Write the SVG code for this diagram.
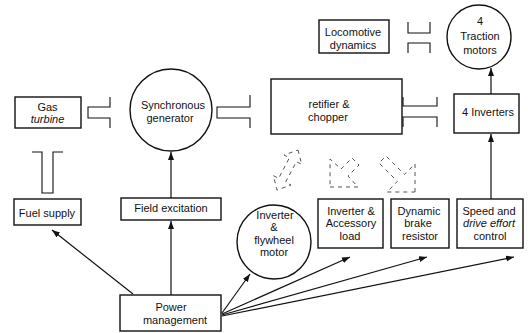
<svg xmlns="http://www.w3.org/2000/svg" width="528" height="333" viewBox="0 0 528 333">
<style>
  .box{fill:#fff;stroke:#111;stroke-width:1.4}
  .t{font-family:"Liberation Sans",Arial,sans-serif;font-size:11px;fill:#111;text-anchor:middle}
  .i{font-style:italic}
  .sh{fill:none;stroke:#111;stroke-width:1.1}
  .ln{fill:none;stroke:#111;stroke-width:1.2}
  .da{fill:none;stroke:#555;stroke-width:1;stroke-dasharray:4 4}
</style>
<defs>
  <marker id="ah" markerUnits="userSpaceOnUse" markerWidth="9" markerHeight="7" refX="8" refY="3" orient="auto">
    <path d="M0,0 L8,3 L0,6 z" fill="#111"/>
  </marker>
</defs>
<rect width="528" height="333" fill="#fff"/>

<g id="gas-turbine">
  <rect class="box" x="15" y="97" width="66" height="31"/>
  <text class="t" x="47.5" y="111">Gas</text>
  <text class="t i" x="47.5" y="123">turbine</text>
</g>
<g id="sync-generator">
  <circle class="box" cx="171" cy="110" r="41"/>
  <text class="t" x="173" y="109">Synchronous</text>
  <text class="t" x="170" y="122">generator</text>
</g>
<g id="rectifier">
  <rect class="box" x="271" y="79" width="131" height="55"/>
  <text class="t" x="329" y="108">retifier &amp;</text>
  <text class="t" x="328" y="121">chopper</text>
</g>
<g id="locomotive-dynamics">
  <rect class="box" x="319" y="20" width="70" height="33"/>
  <text class="t" x="353" y="36">Locomotive</text>
  <text class="t" x="353" y="49">dynamics</text>
</g>
<g id="traction-motors">
  <circle class="box" cx="479" cy="37" r="32"/>
  <text class="t" x="480" y="25">4</text>
  <text class="t" x="480" y="40">Traction</text>
  <text class="t" x="480" y="54">motors</text>
</g>
<g id="inverters">
  <rect class="box" x="454" y="94" width="65" height="39"/>
  <text class="t" x="488" y="116">4 Inverters</text>
</g>
<g id="fuel-supply">
  <rect class="box" x="14" y="199" width="67" height="26"/>
  <text class="t" x="47" y="217">Fuel supply</text>
</g>
<g id="field-excitation">
  <rect class="box" x="121" y="198" width="100" height="22"/>
  <text class="t" x="171" y="212">Field excitation</text>
</g>
<g id="flywheel-motor">
  <circle class="box" cx="274" cy="242" r="37"/>
  <text class="t" x="275" y="219">Inverter</text>
  <text class="t" x="274" y="231">&amp;</text>
  <text class="t" x="274" y="244">flywheel</text>
  <text class="t" x="274" y="256">motor</text>
</g>
<g id="accessory-load">
  <rect class="box" x="318" y="199" width="65" height="49"/>
  <text class="t" x="351" y="215">Inverter &amp;</text>
  <text class="t" x="351" y="227">Accessory</text>
  <text class="t" x="350" y="240">load</text>
</g>
<g id="brake-resistor">
  <rect class="box" x="391" y="199" width="58" height="49"/>
  <text class="t" x="419" y="215">Dynamic</text>
  <text class="t" x="418" y="227">brake</text>
  <text class="t" x="420" y="240">resistor</text>
</g>
<g id="speed-control">
  <rect class="box" x="457" y="199" width="66" height="49"/>
  <text class="t" x="489" y="215">Speed and</text>
  <text class="t i" x="489" y="227">drive effort</text>
  <text class="t" x="490" y="240">control</text>
</g>
<g id="power-management">
  <rect class="box" x="120" y="295" width="101" height="36"/>
  <text class="t" x="171" y="311">Power</text>
  <text class="t" x="175" y="324">management</text>
</g>

<g id="connectors">
  <!-- mechanical shaft couplings -->
  <path class="sh" d="M110,97 V107 H88 V118 H110 V128"/>
  <path class="sh" d="M250,95 V107 H217 V118 H250 V128"/>
  <path class="sh" d="M32,152 H42 V193 H53 V152 H63"/>
  <path class="sh" d="M403,97 V106 H437 V97 M403,127 V117 H437 V127"/>
  <path class="sh" d="M408,22 V33 H430 V22 M408,53 V43 H430 V53"/>
  <!-- signal arrows -->
  <line class="ln" x1="171" y1="198" x2="171" y2="152" marker-end="url(#ah)"/>
  <line class="ln" x1="171" y1="295" x2="171" y2="221" marker-end="url(#ah)"/>
  <line class="ln" x1="133" y1="294" x2="52" y2="230" marker-end="url(#ah)"/>
  <line class="ln" x1="491" y1="199" x2="491" y2="134" marker-end="url(#ah)"/>
  <line class="ln" x1="491" y1="94" x2="491" y2="68" marker-end="url(#ah)"/>
  <line class="ln" x1="222" y1="313" x2="250" y2="274" marker-end="url(#ah)"/>
  <line class="ln" x1="222" y1="314" x2="350" y2="257" marker-end="url(#ah)"/>
  <line class="ln" x1="222" y1="315" x2="427" y2="257" marker-end="url(#ah)"/>
  <line class="ln" x1="222" y1="316" x2="514" y2="257" marker-end="url(#ah)"/>
  <!-- dashed power-flow arrows -->
  <polygon class="da" points="298,150 301.7,164.4 296.4,161.6 285.6,182.2 291,185 277,190 273.3,175.6 278.6,178.4 289.4,157.8 284.1,155"/>
  <polygon class="da" points="330,187 358,187 348,176 359,165 352,158 341,169 330,159"/>
  <polygon class="da" points="415,192 415,164 404.4,174.4 386,156 379,163 397.4,181.4 387,192"/>
</g>
</svg>
